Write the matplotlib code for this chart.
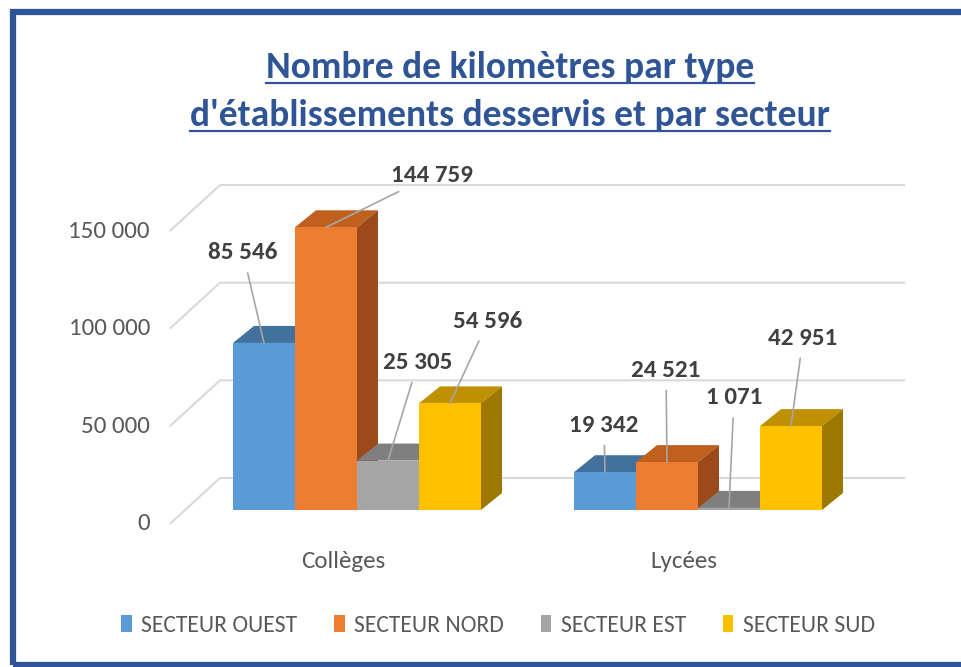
# Nombre de kilomètres par type d'établissements desservis et par secteur
# Faux-3D clustered bars (Excel style) drawn with plain matplotlib patches.

import matplotlib
matplotlib.use("Agg")
import matplotlib.pyplot as plt
from matplotlib.patches import Patch, Rectangle
from matplotlib.lines import Line2D

# ----------------------------------------------------------------------
# Data
# ----------------------------------------------------------------------
categories = ["Collèges", "Lycées"]
sectors = ["SECTEUR OUEST", "SECTEUR NORD", "SECTEUR EST", "SECTEUR SUD"]
ouest = [85546, 19342]
nord = [144759, 24521]
est = [25305, 1071]
sud = [54596, 42951]
y_ticks = [0, 50000, 100000, 150000]
y_tick_labels = ["0", "50 000", "100 000", "150 000"]

series = [ouest, nord, est, sud]

# ----------------------------------------------------------------------
# Styles
# ----------------------------------------------------------------------
FRONT = ["#5B9BD5", "#ED7D31", "#A5A5A5", "#FFC000"]
TOP = ["#41719C", "#C0601F", "#7F7F7F", "#BF9000"]
SIDE = ["#3A6690", "#9C4A1A", "#6E6E6E", "#9C7800"]
FONT = ["Carlito", "Lato", "DejaVu Sans"]
TITLE_BLUE = "#2F5597"
GRID = "#D9D9D9"
TXT = "#595959"

W, H = 961, 667
PX_X = 62.0          # pixels per bar width
PX_Y = 1.953 / 1000  # pixels per km
GROUP_STEP = 5.5     # bar widths between category centers
DEPTH_X, DEPTH_Y = 21 / PX_X, 17 / PX_Y          # bar depth
FLOOR_FRONT_X, FLOOR_FRONT_Y = -3.02, -14 / PX_Y  # front edge of floor
FLOOR_BACK_X, FLOOR_BACK_Y = -2.21, 32 / PX_Y     # back wall
WALL_RIGHT = 8.84

# label offsets in pixels from the bar's front-top centre
label_offsets = [
    [(-21, 90), (-1, 47)],
    [(106, 52), (-1, 92)],
    [(30, 98), (5, 110)],
    [(38, 82), (12, 88)],
]

fig = plt.figure(figsize=(W / 100, H / 100), dpi=100)
fig.patch.set_facecolor("white")
ax = fig.add_axes([0, 0, 1, 1])
ax.set_xlim(-357 / PX_X, (W - 357) / PX_X)
ax.set_ylim(-(H - 510) / PX_Y, 510 / PX_Y)
ax.axis("off")

# gridlines: back wall + floor diagonals
for v, lab in zip(y_ticks, y_tick_labels):
    ax.plot([FLOOR_FRONT_X, FLOOR_BACK_X, WALL_RIGHT],
            [v + FLOOR_FRONT_Y, v + FLOOR_BACK_Y, v + FLOOR_BACK_Y],
            color=GRID, lw=1.5, zorder=1, solid_capstyle="butt")
    ax.text(FLOOR_FRONT_X - 0.32, v + FLOOR_FRONT_Y, lab, ha="right", va="center",
            fontsize=18, color=TXT, family=FONT)

# bars
n = len(series)
for c, cat in enumerate(categories):
    center = c * GROUP_STEP
    for i, vals in enumerate(series):
        h = vals[c]
        x0 = center - n / 2 + i
        z = 10 + 3 * i
        ax.fill([x0, x0 + 1, x0 + 1 + DEPTH_X, x0 + DEPTH_X],
                [h, h, h + DEPTH_Y, h + DEPTH_Y], color=TOP[i], lw=0, zorder=z)
        ax.fill([x0 + 1, x0 + 1 + DEPTH_X, x0 + 1 + DEPTH_X, x0 + 1],
                [0, DEPTH_Y, h + DEPTH_Y, h], color=SIDE[i], lw=0, zorder=z + 1)
        ax.bar(x0 + 0.5, h, width=1, color=FRONT[i], lw=0, zorder=z + 2)
        dx, dy = label_offsets[i][c]
        ax.annotate(f"{h:,}".replace(",", " "), xy=(x0 + 0.5, h),
                    xytext=(dx, dy), textcoords="offset pixels",
                    ha="center", va="center", fontsize=18, fontweight="bold",
                    color="#404040", family=FONT, zorder=40,
                    arrowprops=dict(arrowstyle="-", color="#A6A6A6", lw=1.2,
                                    shrinkA=5, shrinkB=0))
    ax.text(center - 0.22, -52 / PX_Y, cat, ha="center", va="center",
            fontsize=18, color=TXT, family=FONT)

# title (underlined)
t1 = fig.text(510 / W, 1 - 78 / H, "Nombre de kilomètres par type", ha="center",
              va="baseline", fontsize=27, fontweight="bold", color=TITLE_BLUE, family=FONT)
t2 = fig.text(510 / W, 1 - 126 / H, "d'établissements desservis et par secteur",
              ha="center", va="baseline", fontsize=27, fontweight="bold",
              color=TITLE_BLUE, family=FONT)
fig.canvas.draw()
r = fig.canvas.get_renderer()
for t, base in [(t1, 78), (t2, 126)]:
    bb = t.get_window_extent(r)
    yy = 1 - (base + 5) / H
    fig.add_artist(Line2D([bb.x0 / W, bb.x1 / W], [yy, yy], color=TITLE_BLUE,
                          lw=1.6, transform=fig.transFigure))

# legend
handles = [Patch(facecolor=col, edgecolor="none", label=s) for s, col in zip(sectors, FRONT)]
fig.legend(handles=handles, loc="center", bbox_to_anchor=(498 / W, 1 - 625 / H),
           ncol=4, frameon=False, handlelength=0.45, handleheight=0.7,
           handletextpad=0.4, columnspacing=1.55, labelcolor=TXT,
           prop={"family": FONT, "size": 17})

# blue frame
fig.add_artist(Rectangle((13 / W, 1 - 665 / H), 1.2, (665 - 12) / H, fill=False,
                         edgecolor=TITLE_BLUE, lw=4.5, transform=fig.transFigure))

fig.savefig("out.png", dpi=100, facecolor="white")
